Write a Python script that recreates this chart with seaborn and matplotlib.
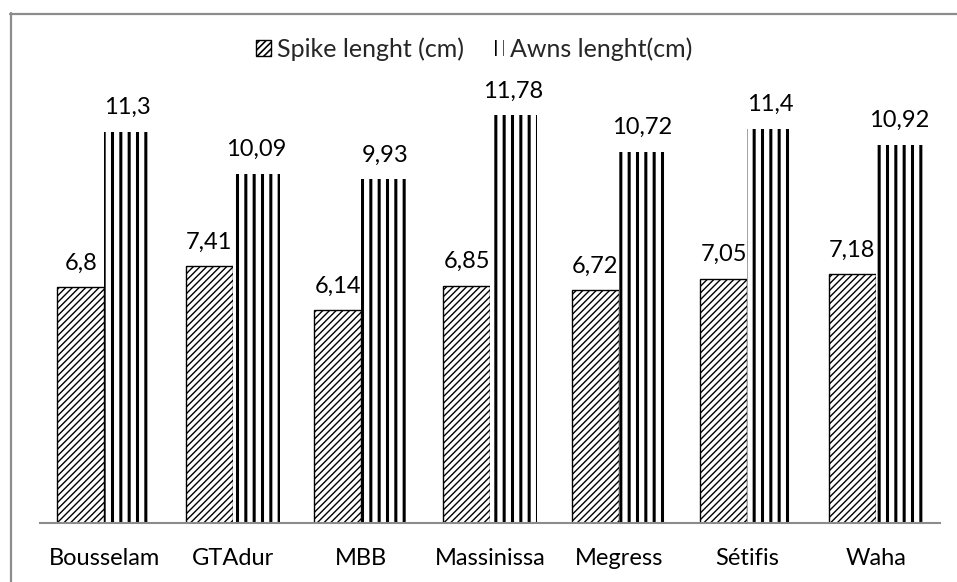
import matplotlib
matplotlib.use("Agg")
import matplotlib.pyplot as plt
import matplotlib.patches as mpatches
import matplotlib.lines as mlines
import seaborn as sns
import pandas as pd

varieties = ["Bousselam", "GTAdur", "MBB", "Massinissa", "Megress", "Sétifis", "Waha"]
spike_length = [6.8, 7.41, 6.14, 6.85, 6.72, 7.05, 7.18]
awns_length = [11.3, 10.09, 9.93, 11.78, 10.72, 11.4, 10.92]
series_names = ["Spike lenght (cm)", "Awns lenght(cm)"]

df = pd.DataFrame({
    "variety": varieties * 2,
    "series": [series_names[0]] * len(varieties) + [series_names[1]] * len(varieties),
    "value": spike_length + awns_length,
})

sns.set_theme(style="white")
plt.rcParams["font.family"] = ["Lato", "DejaVu Sans"]
plt.rcParams["hatch.linewidth"] = 1.2

FS = 17

fig = plt.figure(figsize=(9.57, 5.82), dpi=100)
ax = fig.add_axes([40 / 957, 0.1022, 900 / 957, 0.772])

sns.barplot(data=df, x="variety", y="value", hue="series", order=varieties,
            hue_order=series_names, width=0.73, gap=0, ax=ax,
            palette=["white", "white"], legend=False, errorbar=None)


def style_spike(p):
    p.set_facecolor("white")
    p.set_edgecolor("black")
    p.set_linewidth(1.0)
    p.set_hatch("/////")
    if hasattr(p, "set_hatch_linewidth"):
        p.set_hatch_linewidth(1.0)


def style_awns(p):
    p.set_facecolor("white")
    p.set_edgecolor("black")
    p.set_linewidth(0)
    p.set_hatch("||")
    if hasattr(p, "set_hatch_linewidth"):
        p.set_hatch_linewidth(2.2)


containers = ax.containers
for bar in containers[0]:
    style_spike(bar)
for bar in containers[1]:
    style_awns(bar)


def fmt(v):
    return f"{v:g}".replace(".", ",")


for cont, vals in zip(containers, [spike_length, awns_length]):
    ax.bar_label(cont, labels=[fmt(v) for v in vals], padding=10, fontsize=FS, color="black")

ax.set_ylim(0, 13)
ax.set_xlim(-0.5, len(varieties) - 0.5)
ax.set_xlabel("")
ax.set_ylabel("")
ax.set_yticks([])
ax.tick_params(axis="x", length=0, pad=18, labelsize=FS, labelcolor="black")
for side in ["top", "left", "right"]:
    ax.spines[side].set_visible(False)
ax.spines["bottom"].set_color("#8c8c8c")
ax.spines["bottom"].set_linewidth(1.5)

h1 = mpatches.Patch()
style_spike(h1)
h2 = mpatches.Patch()
style_awns(h2)
fig.legend([h1, h2], series_names, loc="center", bbox_to_anchor=(474 / 957, 1 - 49 / 582),
           ncol=2, frameon=False, fontsize=18, handlelength=0.6, handleheight=0.6,
           handletextpad=0.25, columnspacing=1.0)

# figure frame (top and left edges)
fig.add_artist(mlines.Line2D([10 / 957, 1.0], [1 - 14 / 582, 1 - 14 / 582],
                             transform=fig.transFigure, color="#8c8c8c", linewidth=1.6))
fig.add_artist(mlines.Line2D([11 / 957, 11 / 957], [0, 1 - 13 / 582],
                             transform=fig.transFigure, color="#8c8c8c", linewidth=1.6))

fig.savefig("out.png", dpi=100, facecolor="white")
